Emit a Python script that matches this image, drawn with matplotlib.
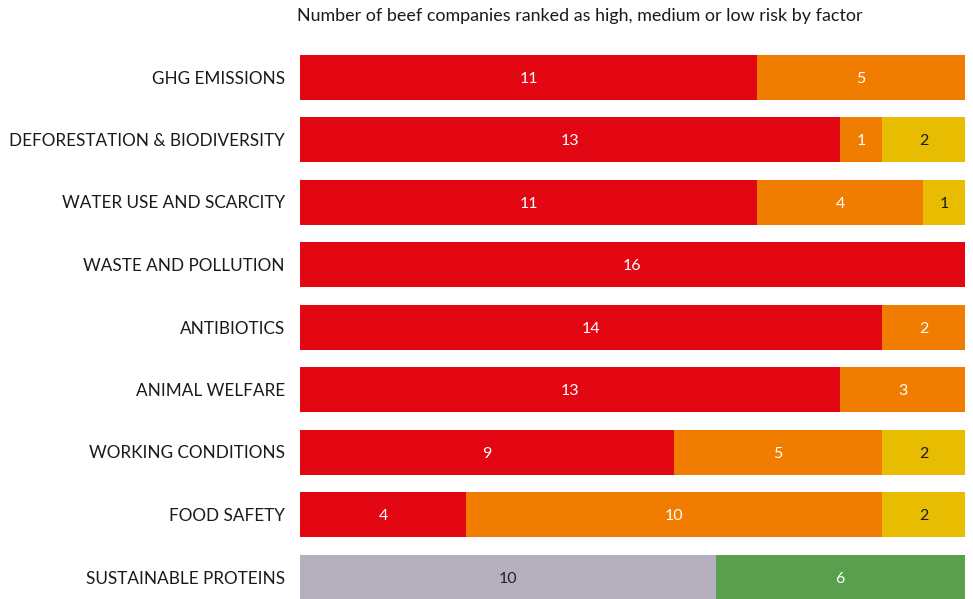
import matplotlib.pyplot as plt
import numpy as np

plt.rcParams["font.family"] = ["Lato", "DejaVu Sans"]

factors = [
    "GHG EMISSIONS",
    "DEFORESTATION & BIODIVERSITY",
    "WATER USE AND SCARCITY",
    "WASTE AND POLLUTION",
    "ANTIBIOTICS",
    "ANIMAL WELFARE",
    "WORKING CONDITIONS",
    "FOOD SAFETY",
    "SUSTAINABLE PROTEINS",
]
high = [11, 13, 11, 16, 14, 13, 9, 4, 0]
medium = [5, 1, 4, 0, 2, 3, 5, 10, 0]
low = [0, 2, 1, 0, 0, 0, 2, 2, 0]
# sustainable proteins uses its own two-way split
proteins_no = [0, 0, 0, 0, 0, 0, 0, 0, 10]
proteins_yes = [0, 0, 0, 0, 0, 0, 0, 0, 6]

series = [
    (high, "#E30613", "white"),
    (medium, "#F07D00", "white"),
    (low, "#E8BC00", "#1a1a1a"),
    (proteins_no, "#B6B0BE", "#222222"),
    (proteins_yes, "#5A9F4E", "white"),
]

W, H = 973, 599
fig = plt.figure(figsize=(W / 100, H / 100), dpi=100)
ax = fig.add_axes([300 / W, 0, 665 / W, 1])

y = np.arange(len(factors))
left = np.zeros(len(factors))
for values, color, text_color in series:
    values = np.array(values, dtype=float)
    ax.barh(y, values, left=left, height=0.72, color=color, linewidth=0)
    for yi, v, l in zip(y, values, left):
        if v > 0:
            ax.text(l + v / 2, yi + 0.03, f"{int(v)}", ha="center", va="center",
                    color=text_color, fontsize=11.5, fontweight="normal")
    left += values

ax.set_xlim(0, 16)
ax.set_ylim(8.352, -1.232)
ax.set_yticks(y)
ax.set_yticklabels(factors, fontsize=12.3, color="#1a1a1a")
ax.tick_params(axis="y", length=0, pad=11)
ax.set_xticks([])
for s in ax.spines.values():
    s.set_visible(False)

fig.text(297 / W, 1 - 16 / H, "Number of beef companies ranked as high, medium or low risk by factor",
         ha="left", va="center", fontsize=12.9, color="#1a1a1a")

fig.savefig("out.png", dpi=100)
